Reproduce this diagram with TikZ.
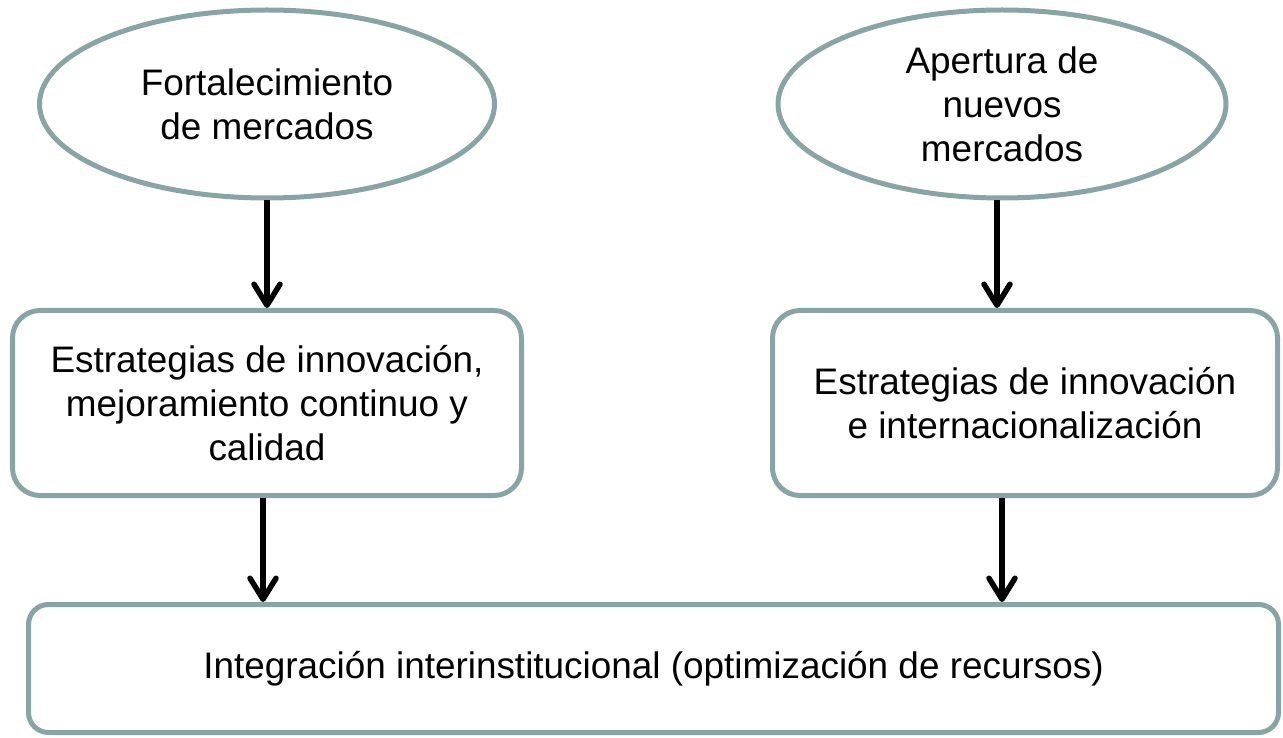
\documentclass[tikz,border=0pt]{standalone}
\usepackage{fontspec}
\setmainfont{Liberation Sans}
\usetikzlibrary{arrows.meta,shapes.geometric}
\definecolor{rimgray}{RGB}{137,164,165}
\begin{document}
\begin{tikzpicture}[
    goal/.style={ellipse, draw=rimgray, line width=0.1cm, inner sep=0pt, align=center,
      font=\fontsize{21}{25}\selectfont},
    plan/.style={rectangle, draw=rimgray, line width=0.1cm, rounded corners=0.55cm, inner sep=0pt,
      align=center, font=\fontsize{21}{25}\selectfont},
    flow/.style={line width=0.11cm, -{Straight Barb[length=0.42cm, width=0.52cm, round]}}
  ]
    \useasboundingbox (0, 0) rectangle (25.66, -14.76);

    % Nodes
    \node[goal, minimum width=9.1cm, minimum height=3.76cm] at (5.34, -2.08)  (e1)  {Fortalecimiento\\de mercados};
    \node[goal, minimum width=8.96cm, minimum height=3.76cm] at (20.04, -2.08)  (e2)  {Apertura de\\nuevos\\mercados};
    \node[plan, minimum width=10.18cm, minimum height=3.7cm] at (5.34, -8.06)  (b1)  {Estrategias de innovación,\\mejoramiento continuo y\\calidad};
    \node[plan, minimum width=10.1cm, minimum height=3.7cm] at (20.5, -8.06)  (b2)  {Estrategias de innovación\\e internacionalización};
    \node[plan, rounded corners=0.4cm, minimum width=25.0cm, minimum height=2.56cm] at (13.07, -13.37)  (b3)  {Integración interinstitucional (optimización de recursos)};

    % Arrows
    \draw[flow]  (e1.south) -- (b1.north);
    \draw[flow]  ([xshift=-0.1cm]e2.south) -- ([xshift=-0.1cm]e2.south |- b2.north);
    \draw[flow]  ([xshift=-0.08cm]b1.south) -- ([xshift=-0.08cm]b1.south |- b3.north);
    \draw[flow]  (b2.south -| e2.south) -- (e2.south |- b3.north);

  \end{tikzpicture}
\end{document}
